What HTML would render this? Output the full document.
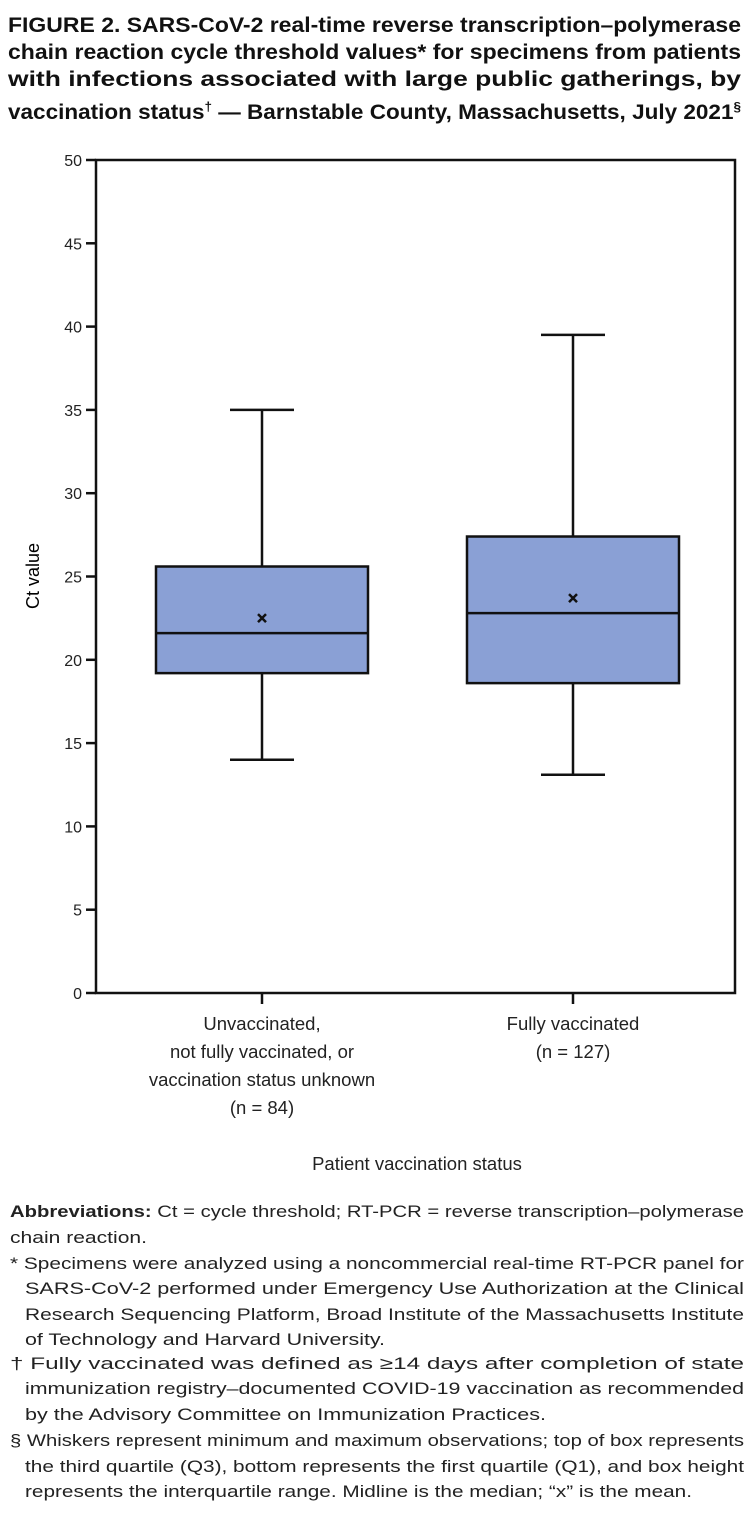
<!DOCTYPE html>
<html><head><meta charset="utf-8"><style>
body{margin:0;background:#fff;width:754px;height:1516px;overflow:hidden;font-family:"Liberation Sans",sans-serif;color:#111}
svg{position:absolute;left:0;top:0}
.ln{position:absolute;white-space:nowrap;transform-origin:0 50%;display:inline-block}
.t{font-weight:bold;font-size:21px;line-height:24px}
.f{font-size:17px;line-height:22px;color:#222}
sup{font-size:0.6em}
</style></head><body>
<svg width="754" height="1516" id="chart"></svg>
<div>
<span class="ln t" data-w="733" style="left:8px;top:14px">FIGURE 2. SARS-CoV-2 real-time reverse transcription–polymerase</span>
<span class="ln t" data-w="733" style="left:8px;top:41px">chain reaction cycle threshold values* for specimens from patients</span>
<span class="ln t" data-w="733" style="left:8px;top:68px">with infections associated with large public gatherings, by</span>
<span class="ln t" data-w="733" style="left:8px;top:95px">vaccination status<sup>†</sup> — Barnstable County, Massachusetts, July 2021<sup>§</sup></span>
</div>
<div>
<span class="ln f" data-w="734" style="left:10px;top:1201px"><b>Abbreviations:</b> Ct = cycle threshold; RT-PCR = reverse transcription–polymerase</span>
<span class="ln f" data-w="137" style="left:10px;top:1227px">chain reaction.</span>
<span class="ln f" data-w="734" style="left:10px;top:1253px">* Specimens were analyzed using a noncommercial real-time RT-PCR panel for</span>
<span class="ln f" data-w="719" style="left:25px;top:1278px">SARS-CoV-2 performed under Emergency Use Authorization at the Clinical</span>
<span class="ln f" data-w="719" style="left:25px;top:1304px">Research Sequencing Platform, Broad Institute of the Massachusetts Institute</span>
<span class="ln f" data-w="360" style="left:25px;top:1329px">of Technology and Harvard University.</span>
<span class="ln f" data-w="734" style="left:10px;top:1353px">† Fully vaccinated was defined as ≥14 days after completion of state</span>
<span class="ln f" data-w="719" style="left:25px;top:1378px">immunization registry–documented COVID-19 vaccination as recommended</span>
<span class="ln f" data-w="521" style="left:25px;top:1404px">by the Advisory Committee on Immunization Practices.</span>
<span class="ln f" data-w="734" style="left:10px;top:1430px">§ Whiskers represent minimum and maximum observations; top of box represents</span>
<span class="ln f" data-w="719" style="left:25px;top:1456px">the third quartile (Q3), bottom represents the first quartile (Q1), and box height</span>
<span class="ln f" data-w="667" style="left:25px;top:1481px">represents the interquartile range. Midline is the median; “x” is the mean.</span>
</div>
<script>
document.querySelectorAll('.ln').forEach(s=>{const w=+s.dataset.w;const n=s.getBoundingClientRect().width;s.style.transform='scaleX('+(w/n)+')';});
const categories=[["Unvaccinated,","not fully vaccinated, or","vaccination status unknown","(n = 84)"],["Fully vaccinated","(n = 127)"]];
const mins=[14,13.1];
const q1s=[19.2,18.6];
const medians=[21.6,22.8];
const q3s=[25.6,27.4];
const maxs=[35,39.5];
const means=[22.5,23.7];
const yTicks=[0,5,10,15,20,25,30,35,40,45,50];
const NS="http://www.w3.org/2000/svg";
const svg=document.getElementById('chart');
const L=96,R=735,T=160,B=993;
const y=v=>B-(v/50)*(B-T);
const xc=i=>[262,573][i];
const bw=212;
function el(t,a,p){const e=document.createElementNS(NS,t);for(const k in a)e.setAttribute(k,a[k]);(p||svg).appendChild(e);return e;}
const frame=el('rect',{x:L,y:T,width:R-L,height:B-T,fill:'none',stroke:'#111','stroke-width':2.5});


yTicks.forEach(v=>{
 const t=el('line',{x1:L-10,x2:L,y1:y(v),y2:y(v),stroke:'#111','stroke-width':2.5});
 
 
 const tx=el('text',{x:L-14,y:y(v)+6,'text-anchor':'end','font-size':16,fill:'#222'});
 tx.textContent=v;
 
 
});
const yt=el('text',{x:39,y:576,'text-anchor':'middle','font-size':18,transform:'rotate(-90 39 576)'});
yt.textContent='Ct value';


categories.forEach((c,i)=>{
 const cx=xc(i);
 const g=el('g',{});
 
 
 el('line',{x1:cx,x2:cx,y1:y(maxs[i]),y2:y(q3s[i]),stroke:'#111','stroke-width':2.5},g);
 el('line',{x1:cx,x2:cx,y1:y(q1s[i]),y2:y(mins[i]),stroke:'#111','stroke-width':2.5},g);
 el('line',{x1:cx-32,x2:cx+32,y1:y(maxs[i]),y2:y(maxs[i]),stroke:'#111','stroke-width':2.5},g);
 el('line',{x1:cx-32,x2:cx+32,y1:y(mins[i]),y2:y(mins[i]),stroke:'#111','stroke-width':2.5},g);
 el('rect',{x:cx-bw/2,y:y(q3s[i]),width:bw,height:y(q1s[i])-y(q3s[i]),fill:'#8aa0d5',stroke:'#111','stroke-width':2.5},g);
 el('line',{x1:cx-bw/2,x2:cx+bw/2,y1:y(medians[i]),y2:y(medians[i]),stroke:'#111','stroke-width':2.5},g);
 const my=y(means[i]);
 el('path',{d:`M${cx-4} ${my-4}L${cx+4} ${my+4}M${cx+4} ${my-4}L${cx-4} ${my+4}`,stroke:'#111','stroke-width':2.5},g);
 const tk=el('line',{x1:cx,x2:cx,y1:B,y2:B+11,stroke:'#111','stroke-width':2.5});
 
 
 c.forEach((s,j)=>{
  const t=el('text',{x:cx,y:1030+j*28,'text-anchor':'middle','font-size':18.5,fill:'#222'});
  t.textContent=s;
  
  
 });
});
const xt=el('text',{x:417,y:1170,'text-anchor':'middle','font-size':18.5,fill:'#222'});
xt.textContent='Patient vaccination status';


</script>
</body></html>
